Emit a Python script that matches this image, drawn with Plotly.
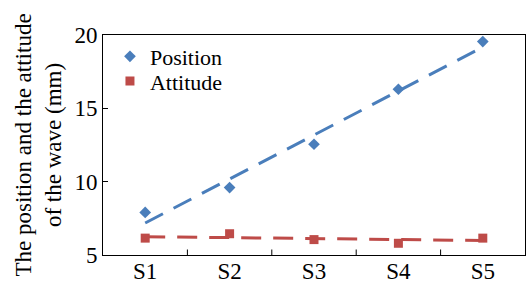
import numpy as np
import plotly.graph_objects as go

categories = ["S1", "S2", "S3", "S4", "S5"]
position = [7.9, 9.6, 12.55, 16.3, 19.55]
attitude = [6.15, 6.45, 6.05, 5.8, 6.15]
y_ticks = [5, 10, 15, 20]

BLUE = "#4A7EBB"
RED = "#BE4B48"
FONT = "Liberation Serif, Times New Roman, serif"

xi = np.arange(len(categories))
fig = go.Figure()

for vals, color, name, sym, size, leg in [
    (position, BLUE, "Position", "diamond", 9, "legend"),
    (attitude, RED, "Attitude", "square", 9, "legend2"),
]:
    k, b = np.polyfit(xi, vals, 1)
    fig.add_trace(go.Scatter(
        x=categories, y=k * xi + b, mode="lines",
        line=dict(color=color, width=3, dash="20px,12px"),
        showlegend=False, hoverinfo="skip"))
    fig.add_trace(go.Scatter(
        x=categories, y=vals, mode="markers", name=name, legend=leg,
        marker=dict(color=color, symbol=sym, size=size)))

leg_common = dict(x=0.0165, xanchor="left", yanchor="middle",
                  bgcolor="rgba(0,0,0,0)", font=dict(size=22),
                  tracegroupgap=0, itemwidth=30)

fig.update_layout(
    width=526, height=283,
    margin=dict(l=103, r=1, t=35, b=28),
    paper_bgcolor="white", plot_bgcolor="white",
    font=dict(family=FONT, size=23, color="black"),
    legend=dict(y=0.902, **leg_common),
    legend2=dict(y=0.79, **leg_common),
    xaxis=dict(type="category", range=[-0.5, 4.5], showline=True,
               linecolor="black", linewidth=1, mirror=True,
               ticks="", showgrid=False, zeroline=False, automargin=False,
               tickfont=dict(size=23), ticklabelstandoff=-5),
    yaxis=dict(range=[5, 20], tickvals=y_ticks, showline=True,
               linecolor="black", linewidth=1, mirror=True,
               ticks="inside", ticklen=5, tickcolor="black",
               showgrid=False, zeroline=False, automargin=False,
               tickfont=dict(size=23),
               title=dict(text="The position and the attitude<br>of the wave (mm)",
                          font=dict(size=23), standoff=6)),
)

# inside ticks between categories on x axis
fig.update_layout(shapes=[
    dict(type="line", xref="x", yref="paper", x0=i + 0.5, x1=i + 0.5,
         y0=0, y1=0.025, line=dict(color="black", width=1))
    for i in range(len(categories) - 1)
])

fig.write_html("out.html", config={"displayModeBar": False},
               post_script="document.body.style.margin='0';")
